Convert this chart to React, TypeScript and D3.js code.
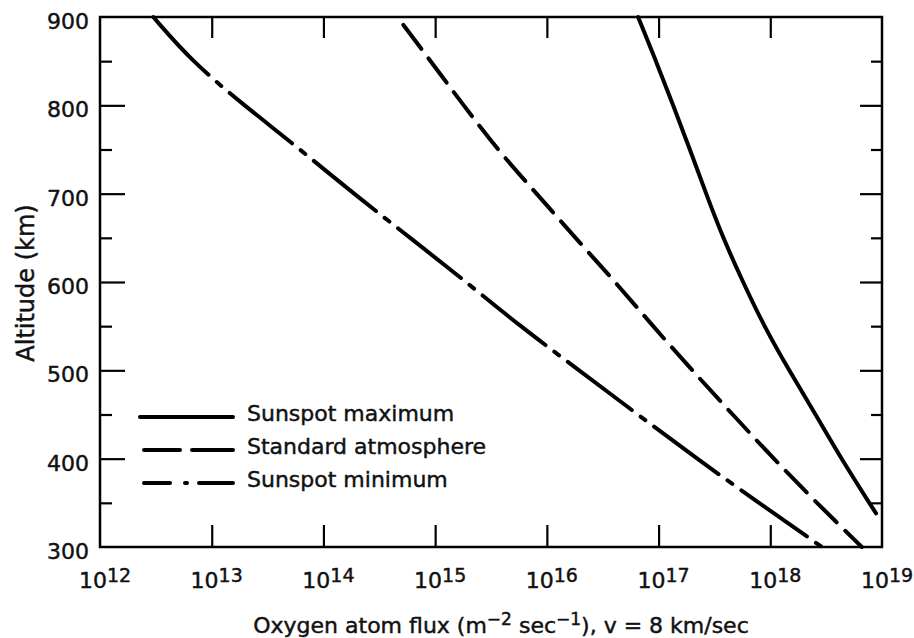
import React, { useRef, useEffect } from 'react';
import * as d3 from 'd3';

// altitude (km) and oxygen atom flux (m^-2 s^-1)
const altMax = [900, 850, 800, 750, 700, 650, 600, 550, 500, 450, 400, 338];
const fluxMax = [6.55e16, 9.5e16, 1.35e17, 1.91e17, 2.66e17, 3.77e17, 5.69e17, 8.79e17, 1.47e18, 2.55e18, 4.31e18, 8.85e18];

const altStd = [891, 850, 800, 750, 700, 650, 600, 550, 500, 450, 400, 350, 300];
const fluxStd = [5.2e14, 9.1e14, 1.8e15, 3.6e15, 8.1e15, 1.8e16, 4.1e16, 8.9e16, 2.0e17, 4.6e17, 1.07e18, 2.6e18, 6.6e18];

const altMin = [900, 850, 800, 750, 700, 650, 600, 550, 500, 450, 400, 350, 300];
const fluxMin = [3.0e12, 6.6e12, 1.95e13, 6.2e13, 1.86e14, 6.0e14, 1.9e15, 5.75e15, 1.95e16, 6.5e16, 2.2e17, 7.9e17, 2.9e18];

const xExponents = [12, 13, 14, 15, 16, 17, 18, 19];
const yMajor = [300, 400, 500, 600, 700, 800, 900];
const yMinor = [350, 450, 550, 650, 750, 850];
const legendLabels = ['Sunspot maximum', 'Standard atmosphere', 'Sunspot minimum'];

const FONT = '"DejaVu Sans", "Liberation Sans", sans-serif';

const App = () => {
  const ref = useRef<SVGSVGElement>(null);

  useEffect(() => {
    const W = 914, H = 638;
    const m = { left: 100, right: 882, top: 17, bottom: 547 };

    const svg = d3.select(ref.current);
    svg.selectAll('*').remove();

    svg.append('rect').attr('width', W).attr('height', H).attr('fill', '#fff');

    const x = d3.scaleLog().domain([1e12, 1e19]).range([m.left, m.right]);
    const y = d3.scaleLinear().domain([300, 900]).range([m.bottom, m.top]);

    const innerX = xExponents.slice(1, -1).map(e => 10 ** e);

    const styleAxis = (g: any) => {
      g.select('.domain').remove();
      g.attr('color', '#000');
      g.selectAll('line').attr('stroke-width', 2.2);
      g.selectAll('text').remove();
    };

    // inward ticks on all four sides
    svg.append('g').attr('transform', `translate(0,${m.bottom})`)
      .call(d3.axisBottom(x).tickValues(innerX).tickSize(-22)).call(styleAxis);
    svg.append('g').attr('transform', `translate(0,${m.top})`)
      .call(d3.axisTop(x).tickValues(innerX).tickSize(-21)).call(styleAxis);
    svg.append('g').attr('transform', `translate(${m.left},0)`)
      .call(d3.axisLeft(y).tickValues(yMajor.slice(1, -1)).tickSize(-25)).call(styleAxis);
    svg.append('g').attr('transform', `translate(${m.left},0)`)
      .call(d3.axisLeft(y).tickValues(yMinor).tickSize(-12)).call(styleAxis);
    svg.append('g').attr('transform', `translate(${m.right},0)`)
      .call(d3.axisRight(y).tickValues(yMajor.slice(1, -1)).tickSize(-22)).call(styleAxis);
    svg.append('g').attr('transform', `translate(${m.right},0)`)
      .call(d3.axisRight(y).tickValues(yMinor).tickSize(-11)).call(styleAxis);

    svg.append('rect')
      .attr('x', m.left).attr('y', m.top)
      .attr('width', m.right - m.left).attr('height', m.bottom - m.top)
      .attr('fill', 'none').attr('stroke', '#000').attr('stroke-width', 2.5);

    // text is slightly heavier in the scan, a thin stroke thickens it
    const textStyle = (t: any, size: number) => t
      .attr('font-family', FONT)
      .attr('font-size', size)
      .attr('fill', '#111')
      .attr('stroke', '#111')
      .attr('stroke-width', 0.45);

    // y tick labels
    svg.append('g').selectAll('text')
      .data(yMajor)
      .enter()
      .append('text')
      .attr('x', 89)
      .attr('y', d => y(d) + 12)
      .attr('text-anchor', 'end')
      .call(textStyle, 22)
      .text(d => d);

    // x tick labels with superscript exponents
    xExponents.forEach(e => {
      const t = svg.append('text')
        .attr('x', x(10 ** e) + 5)
        .attr('y', 588)
        .attr('text-anchor', 'middle')
        .call(textStyle, 22);
      t.append('tspan').text('10');
      t.append('tspan').attr('font-size', 19).attr('dy', -6).text(e);
    });

    // axis titles
    svg.append('text')
      .attr('transform', `translate(34,${(m.top + m.bottom) / 2 + 1}) rotate(-90)`)
      .attr('text-anchor', 'middle')
      .call(textStyle, 24)
      .text('Altitude (km)');

    const xt = svg.append('text')
      .attr('x', 501)
      .attr('y', 633)
      .attr('text-anchor', 'middle')
      .call(textStyle, 22);
    xt.append('tspan').text('Oxygen atom flux (m');
    xt.append('tspan').attr('font-size', 17).attr('dy', -8).text('\u22122');
    xt.append('tspan').attr('dy', 8).text(' sec');
    xt.append('tspan').attr('font-size', 17).attr('dy', -8).text('\u22121');
    xt.append('tspan').attr('dy', 8).text('), v = 8 km/sec');

    // curves
    const series = [
      { alt: altMax, flux: fluxMax, dash: null },
      { alt: altStd, flux: fluxStd, dash: '30 12' },
      { alt: altMin, flux: fluxMin, dash: '80 11 6 11' },
    ];

    // basis spline smooths out the small reading errors in the points
    const line = d3.line<[number, number]>()
      .x(d => x(d[0]))
      .y(d => y(d[1]))
      .curve(d3.curveBasis);

    series.forEach(s => {
      const pts = s.alt.map((a, i) => [s.flux[i], a] as [number, number]);
      svg.append('path')
        .attr('d', line(pts))
        .attr('fill', 'none')
        .attr('stroke', '#000')
        .attr('stroke-width', 4)
        .attr('stroke-linecap', 'round')
        .attr('stroke-dasharray', s.dash);
    });

    // legend
    const legendY = [417, 450, 483];
    const legendLines = [
      { x1: 140, x2: 233, dash: null },
      { x1: 144, x2: 233, dash: '36 12 41 100' },
      { x1: 144, x2: 233, dash: '26 15 2 12 34 100' },
    ];
    legendLabels.forEach((label, i) => {
      svg.append('line')
        .attr('x1', legendLines[i].x1).attr('x2', legendLines[i].x2)
        .attr('y1', legendY[i]).attr('y2', legendY[i])
        .attr('stroke', '#000')
        .attr('stroke-width', 4)
        .attr('stroke-linecap', 'round')
        .attr('stroke-dasharray', legendLines[i].dash);
      svg.append('text')
        .attr('x', 247)
        .attr('y', legendY[i] + 4)
        .call(textStyle, 22)
        .text(label);
    });
  }, []);

  return <svg ref={ref} width={914} height={638} style={{ position: 'absolute', left: 0, top: 0 }} />;
};

export default App;
